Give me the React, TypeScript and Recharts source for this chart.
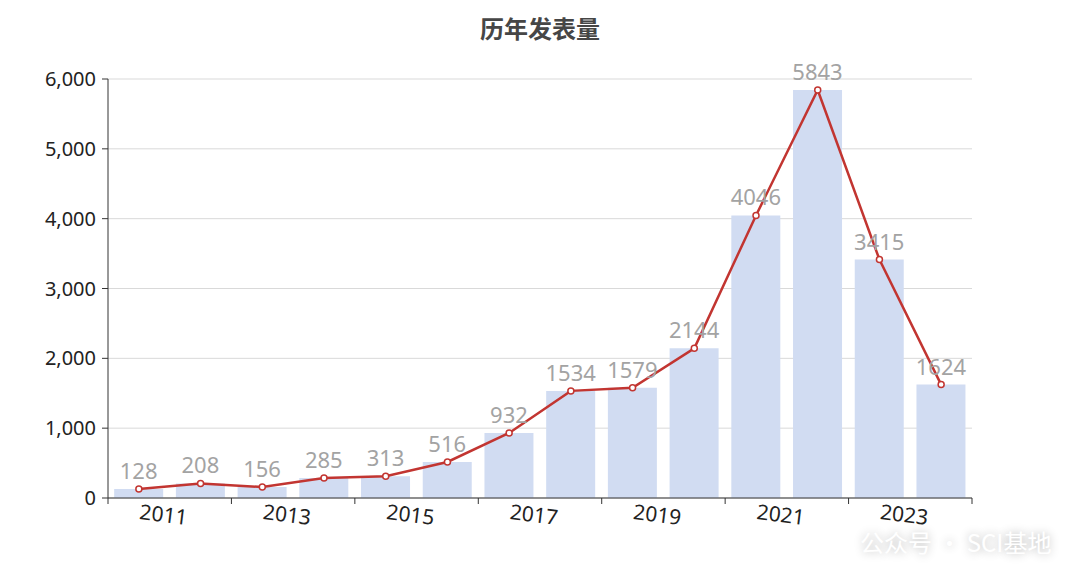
import React from 'react';
import {
    ComposedChart,
    Bar,
    Line,
    LabelList,
    CartesianGrid,
    XAxis,
    YAxis,
} from 'recharts';

const years = ['2011', '2012', '2013', '2014', '2015', '2016', '2017', '2018', '2019', '2020', '2021', '2022', '2023', '2024'];
const counts = [128, 208, 156, 285, 313, 516, 932, 1534, 1579, 2144, 4046, 5843, 3415, 1624];
const yTicks = [0, 1000, 2000, 3000, 4000, 5000, 6000];

const chartData = years.map((year, i) => ({ year, count: counts[i] }));

const PLOT_WIDTH = 864;
const BAND = PLOT_WIDTH / years.length;
const FONT = '"Noto Sans", "Noto Sans CJK SC", sans-serif';

const YearTick = (props: any) => {
    const { x, y, payload } = props;
    const idx = payload.index;
    const lastShown = idx === years.length - 2;
    return (
        <g>
            <line x1={x - BAND / 2} x2={x - BAND / 2} y1={y - 6} y2={y} stroke="#333" />
            {lastShown && (
                <line x1={x + BAND * 1.5} x2={x + BAND * 1.5} y1={y - 6} y2={y} stroke="#333" />
            )}
            <text
                x={x}
                y={y + 15}
                textAnchor="start"
                fill="#222"
                fontSize={21}
                fontFamily={FONT}
                transform={`rotate(7 ${x} ${y + 15})`}
            >
                {payload.value}
            </text>
        </g>
    );
};

const App: React.FC = () => {
    return (
        <div style={{ position: 'relative', width: 1064, height: 561 }}>
            <div
                style={{
                    position: 'absolute',
                    top: 2,
                    left: 0,
                    width: 1064,
                    textAlign: 'center',
                    fontFamily: '"Noto Sans CJK SC", sans-serif',
                    fontWeight: 'bold',
                    fontSize: 24,
                    color: '#464646',
                }}
            >
                历年发表量
            </div>
            <ComposedChart
                width={1064}
                height={561}
                data={chartData}
                margin={{ top: 71, right: 100, bottom: 31, left: 0 }}
                barCategoryGap="10%"
            >
                <CartesianGrid vertical={false} stroke="#d9d9d9" />
                <XAxis
                    dataKey="year"
                    interval={1}
                    height={40}
                    tickSize={6}
                    tickMargin={0}
                    tickLine={false}
                    axisLine={{ stroke: '#333' }}
                    tick={<YearTick />}
                />
                <YAxis
                    width={100}
                    domain={[0, 6000]}
                    ticks={yTicks}
                    tickSize={6}
                    tickMargin={6}
                    axisLine={{ stroke: '#333' }}
                    tickLine={{ stroke: '#333' }}
                    tick={{ fill: '#222', fontSize: 20, fontFamily: FONT }}
                    tickFormatter={(v: number) => v.toLocaleString('en-US')}
                />
                <Bar dataKey="count" fill="#d1dcf2" isAnimationActive={false}>
                    <LabelList
                        dataKey="count"
                        position="top"
                        offset={10}
                        fill="#a3a3a3"
                        fontSize={22}
                        fontFamily={FONT}
                    />
                </Bar>
                <Line
                    dataKey="count"
                    stroke="#c23531"
                    strokeWidth={2.5}
                    dot={{ r: 3, fill: '#fff', stroke: '#c23531', strokeWidth: 1.5 }}
                    isAnimationActive={false}
                />
            </ComposedChart>
            <div
                style={{
                    position: 'absolute',
                    left: 852,
                    top: 516,
                    fontFamily: '"Noto Sans CJK SC", sans-serif',
                    fontSize: 24,
                    color: '#fff',
                    textShadow: '0 0 10px rgba(0,0,0,0.3)',
                }}
            >
                公众号 · SCI基地
            </div>
        </div>
    );
};

export default App;
